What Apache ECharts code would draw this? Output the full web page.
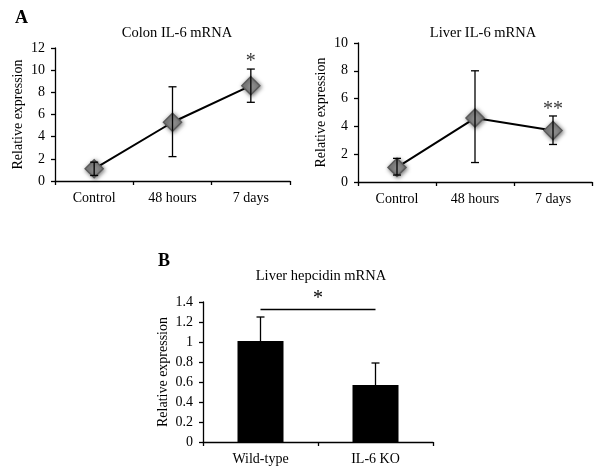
<!DOCTYPE html>
<html><head><meta charset="utf-8">
<script src="https://cdn.jsdelivr.net/npm/echarts@6/dist/echarts.min.js"></script>
<style>html,body{margin:0;padding:0;background:#fff}#c{width:600px;height:476px}</style>
</head><body><div id="c"></div>
<script>
const timeCats = ['Control', '48 hours', '7 days'];
const colonMean = [1.1, 5.3, 8.6];
const colonLow = [0.5, 2.2, 7.1];
const colonHigh = [1.7, 8.5, 10.1];
const colonSig = ['', '', '*'];
const colonSigY = [0, 0, 10.8];
const liverMean = [1.05, 4.6, 3.7];
const liverLow = [0.5, 1.4, 2.7];
const liverHigh = [1.7, 8.0, 4.75];
const liverSig = ['', '', '**'];
const liverSigY = [0, 0, 5.2];
const geneCats = ['Wild-type', 'IL-6 KO'];
const hepMean = [1.01, 0.57];
const hepHigh = [1.25, 0.79];
const hepSigLevel = 1.33;
const hepSigText = '*';

const FONT = 'Liberation Serif';
const chart = echarts.init(document.getElementById('c'), null, {renderer: 'canvas'});

function errSeries(gi, low, high, capLow) {
  return {
    type: 'custom', xAxisIndex: gi, yAxisIndex: gi, z: 5, silent: true,
    data: low.map((l, i) => [i, l, high[i]]),
    renderItem: function (params, api) {
      const lo = api.coord([api.value(0), api.value(1)]);
      const hi = api.coord([api.value(0), api.value(2)]);
      const w = 4;
      const st = {stroke: '#000', lineWidth: 1.3};
      const ch = [
        {type: 'line', shape: {x1: lo[0], y1: lo[1], x2: hi[0], y2: hi[1]}, style: st},
        {type: 'line', shape: {x1: hi[0] - w, y1: hi[1], x2: hi[0] + w, y2: hi[1]}, style: st}
      ];
      if (capLow) ch.push({type: 'line', shape: {x1: lo[0] - w, y1: lo[1], x2: lo[0] + w, y2: lo[1]}, style: st});
      return {type: 'group', children: ch};
    }
  };
}
function sigSeries(gi, texts, ys) {
  return {
    type: 'scatter', xAxisIndex: gi, yAxisIndex: gi, symbolSize: 0, silent: true, clip: false, z: 6,
    data: texts.map((t, i) => ({value: [i, ys[i]], label: {show: t !== '', formatter: t}})),
    label: {position: 'inside', fontFamily: FONT, fontSize: 20, color: '#000'}
  };
}
function yAx(gi, max, interval, gap, fmt) {
  return {
    type: 'value', gridIndex: gi, min: 0, max: max, interval: interval,
    name: 'Relative expression', nameLocation: 'middle', nameGap: gap, nameRotate: 90,
    nameTextStyle: {fontFamily: FONT, fontSize: 14, color: '#000'},
    axisLine: {show: true, lineStyle: {color: '#000', width: 1.3}},
    axisTick: {show: true, length: 4, lineStyle: {color: '#000', width: 1.3}},
    axisLabel: {fontFamily: FONT, fontSize: 14, color: '#000', margin: 10, formatter: fmt},
    splitLine: {show: false}
  };
}
function xAx(gi, cats) {
  return {
    type: 'category', gridIndex: gi, data: cats, boundaryGap: true,
    axisLine: {show: true, lineStyle: {color: '#000', width: 1.3}},
    axisTick: {show: true, length: 4, lineStyle: {color: '#000', width: 1.3}},
    axisLabel: {fontFamily: FONT, fontSize: 14, color: '#000', margin: 10}
  };
}
const markerStyle = {
  color: '#8c8c8c', borderColor: '#5a5a5a', borderWidth: 1.5,
  shadowBlur: 4, shadowColor: 'rgba(0,0,0,0.5)', shadowOffsetX: 1, shadowOffsetY: 1
};

chart.setOption({
  animation: false,
  backgroundColor: '#fff',
  title: [
    {text: 'A', left: 10, top: 4, textStyle: {fontFamily: FONT, fontSize: 18, fontWeight: 'bold', color: '#000'}},
    {text: 'Colon IL-6 mRNA', left: 172, textAlign: 'center', top: 21, textStyle: {fontFamily: FONT, fontSize: 14.5, fontWeight: 'normal', color: '#000'}},
    {text: 'Liver IL-6 mRNA', left: 478, textAlign: 'center', top: 21, textStyle: {fontFamily: FONT, fontSize: 14.5, fontWeight: 'normal', color: '#000'}},
    {text: 'B', left: 153, top: 247, textStyle: {fontFamily: FONT, fontSize: 18, fontWeight: 'bold', color: '#000'}},
    {text: 'Liver hepcidin mRNA', left: 316, textAlign: 'center', top: 264, textStyle: {fontFamily: FONT, fontSize: 14.5, fontWeight: 'normal', color: '#000'}}
  ],
  grid: [
    {left: 55, top: 48, width: 235, height: 133},
    {left: 358, top: 43, width: 234, height: 139},
    {left: 203, top: 302, width: 230, height: 140}
  ],
  xAxis: [xAx(0, timeCats), xAx(1, timeCats), xAx(2, geneCats)],
  yAxis: [
    yAx(0, 12, 2, 30),
    yAx(1, 10, 2, 30),
    yAx(2, 1.4, 0.2, 33, v => String(Math.round(v * 10) / 10))
  ],
  series: [
    errSeries(0, colonLow, colonHigh, true),
    {type: 'line', xAxisIndex: 0, yAxisIndex: 0, data: colonMean, z: 4,
     lineStyle: {color: '#000', width: 2}, symbol: 'diamond', symbolSize: 18, itemStyle: markerStyle},
    sigSeries(0, colonSig, colonSigY),
    errSeries(1, liverLow, liverHigh, true),
    {type: 'line', xAxisIndex: 1, yAxisIndex: 1, data: liverMean, z: 4,
     lineStyle: {color: '#000', width: 2}, symbol: 'diamond', symbolSize: 18, itemStyle: markerStyle},
    sigSeries(1, liverSig, liverSigY),
    {type: 'bar', xAxisIndex: 2, yAxisIndex: 2, data: hepMean, barWidth: '40%',
     itemStyle: {color: '#000'},
     markLine: {silent: true, symbol: 'none',
       label: {show: true, position: 'middle', formatter: hepSigText, fontFamily: FONT, fontSize: 20, color: '#000', distance: 0},
       lineStyle: {color: '#000', width: 1.3, type: 'solid'},
       data: [[{coord: [0, hepSigLevel]}, {coord: [1, hepSigLevel]}]]}},
    errSeries(2, hepMean, hepHigh, false)
  ]
});
</script>
</body></html>
